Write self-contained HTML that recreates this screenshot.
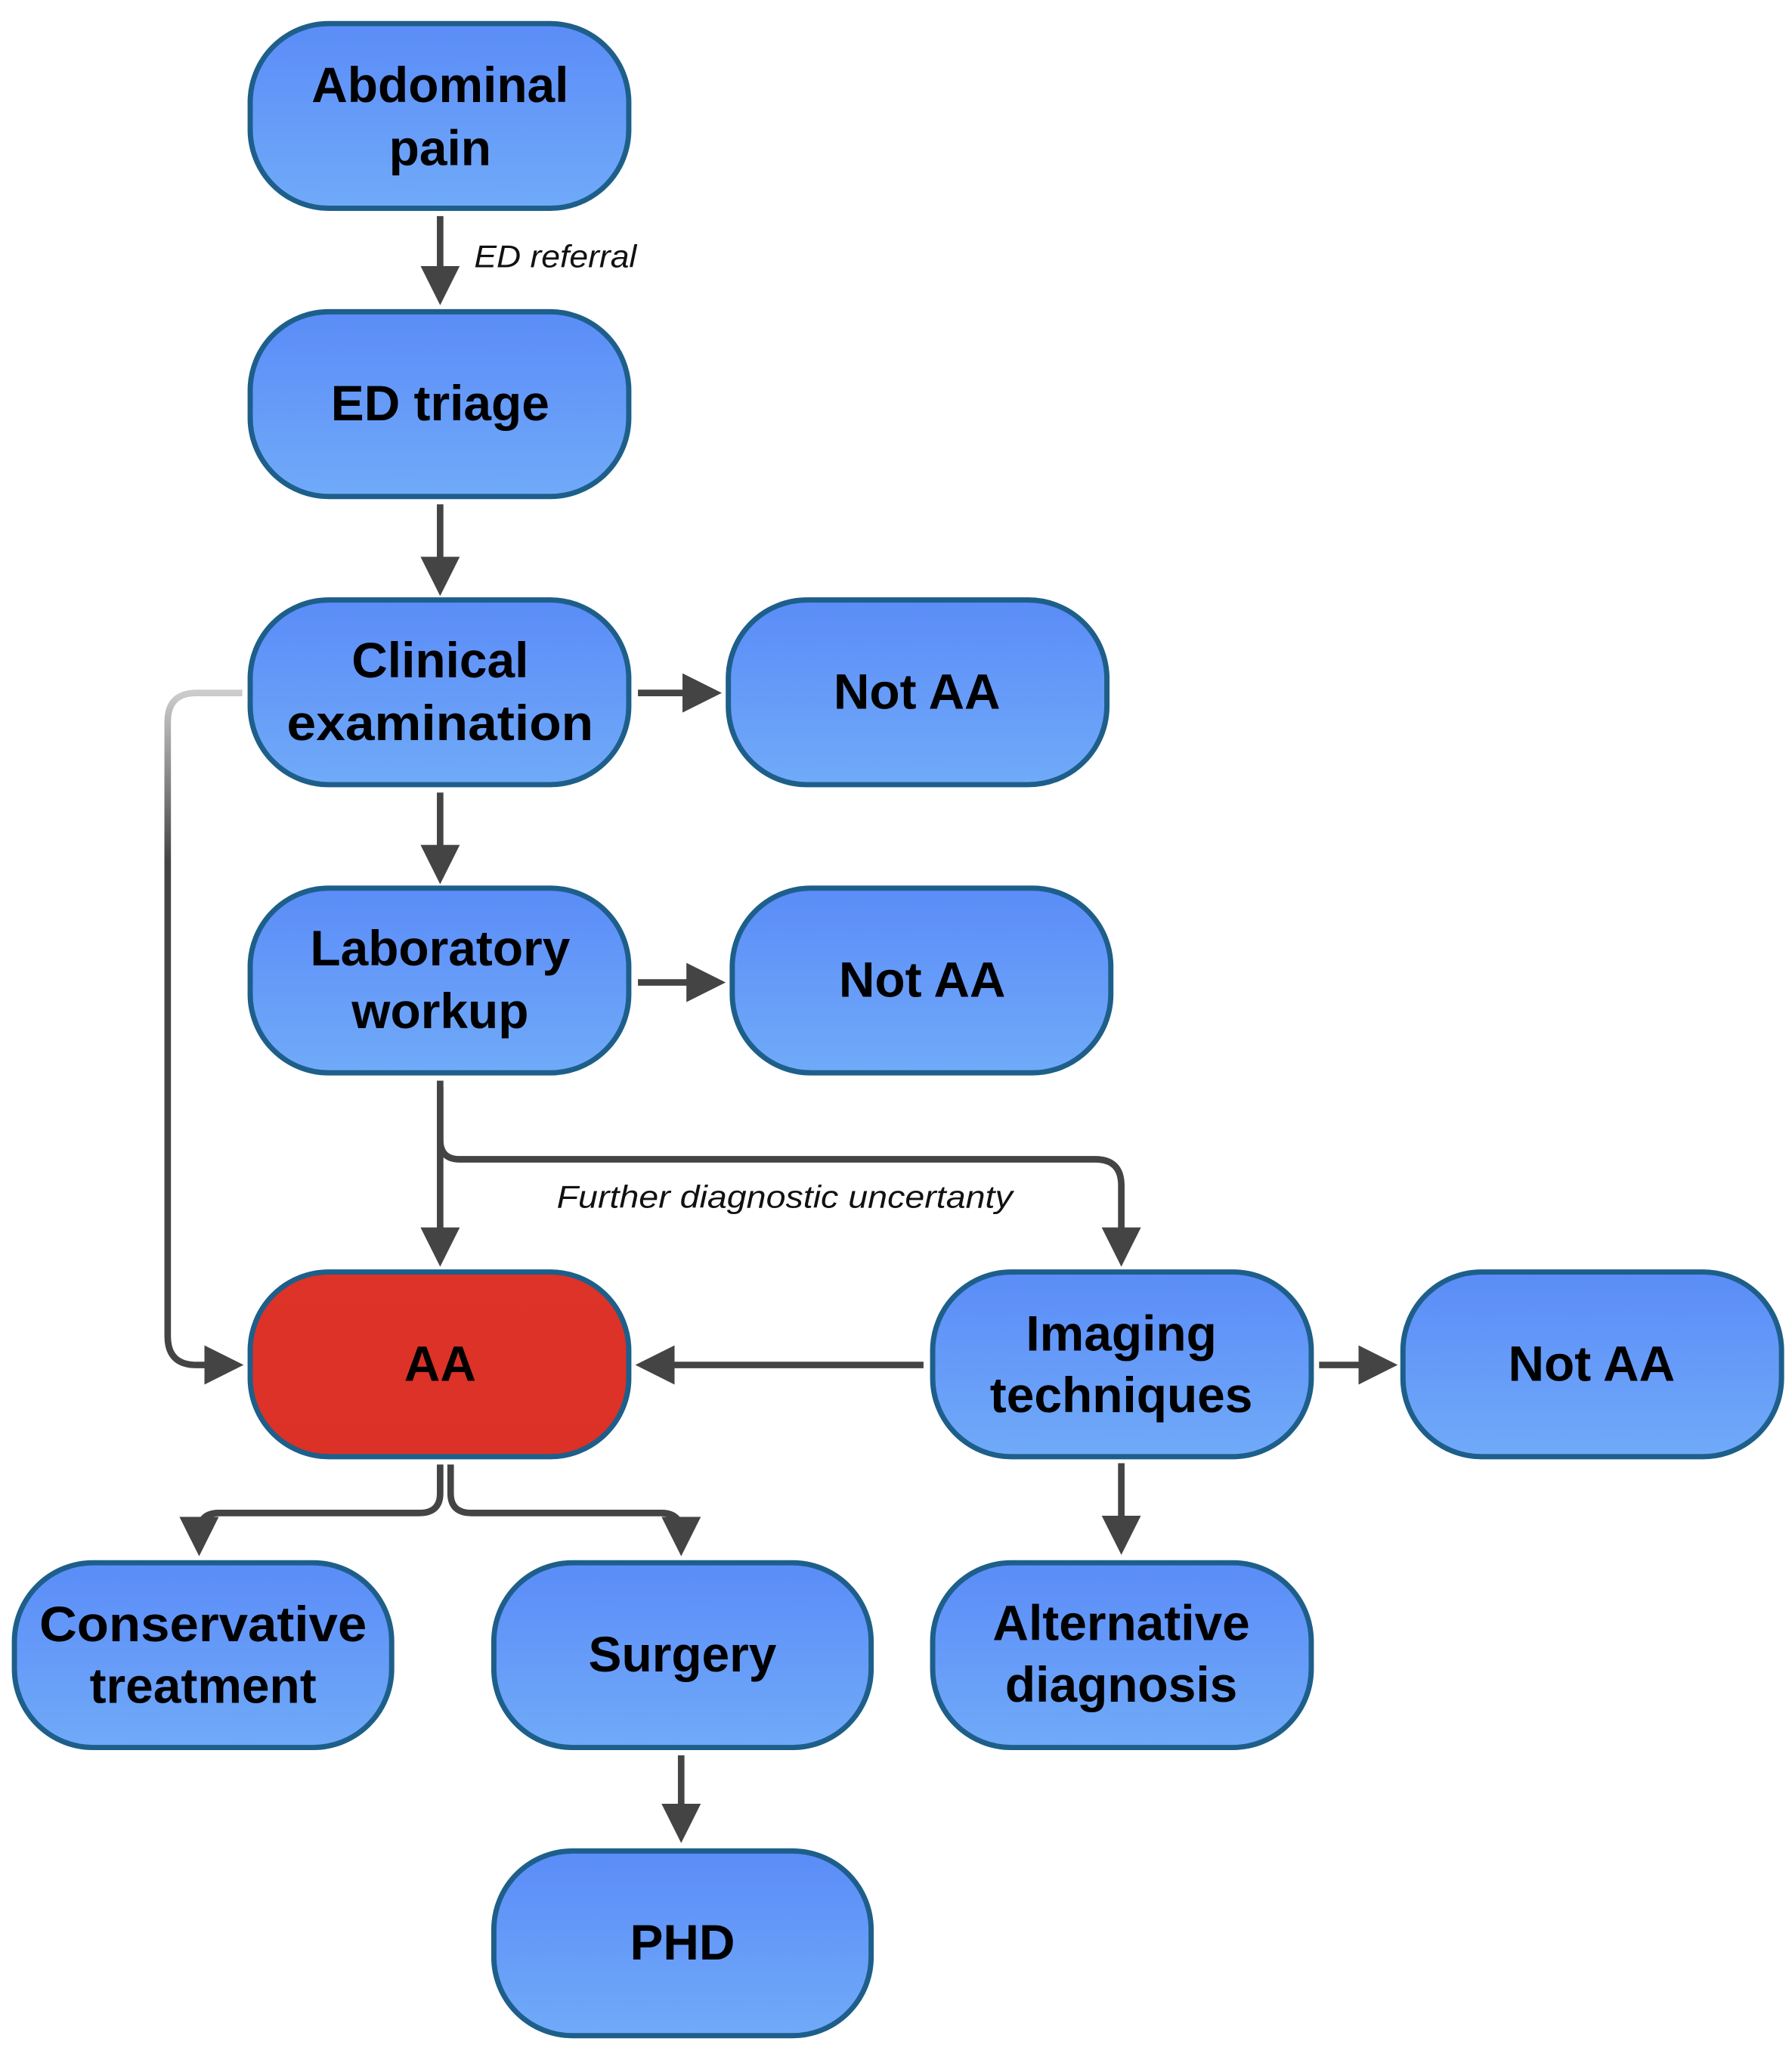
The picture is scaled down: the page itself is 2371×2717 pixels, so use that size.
<!DOCTYPE html>
<html><head><meta charset="utf-8"><style>
html,body{margin:0;padding:0;background:#fff;}
svg{display:block;}
.t{font-family:"Liberation Sans",sans-serif;font-weight:bold;font-size:38px;fill:#000;text-anchor:middle;}
.l{font-family:"Liberation Sans",sans-serif;font-style:italic;font-size:24px;fill:#111;}
.c{stroke:#444;stroke-width:5;fill:none;}
</style></head><body>
<svg width="2371" height="2717" viewBox="0 0 1368 1568" preserveAspectRatio="none" xmlns="http://www.w3.org/2000/svg">
<defs>
<linearGradient id="b" x1="0" y1="0" x2="0" y2="1"><stop offset="0" stop-color="#5b8cf8"/><stop offset="1" stop-color="#70aaf8"/></linearGradient>
<linearGradient id="r" x1="0" y1="0" x2="0" y2="1"><stop offset="0" stop-color="#dd3328"/><stop offset="1" stop-color="#db3127"/></linearGradient>
<linearGradient id="gv" x1="0" y1="0" x2="0" y2="1"><stop offset="0" stop-color="#ccc"/><stop offset="0.25" stop-color="#444"/></linearGradient>
<marker id="a" markerWidth="6" markerHeight="6" refX="3" refY="3" orient="auto" markerUnits="strokeWidth"><path d="M0,0 L6,3 L0,6 z" fill="#444"/></marker>
</defs>
<g stroke="#1d5f8a" stroke-width="4">
<rect x="191" y="18" width="289" height="141" rx="60" fill="url(#b)"/>
<rect x="191" y="238" width="289" height="141" rx="60" fill="url(#b)"/>
<rect x="191" y="458" width="289" height="141" rx="60" fill="url(#b)"/>
<rect x="556" y="458" width="289" height="141" rx="60" fill="url(#b)"/>
<rect x="191" y="678" width="289" height="141" rx="60" fill="url(#b)"/>
<rect x="559" y="678" width="289" height="141" rx="60" fill="url(#b)"/>
<rect x="191" y="971" width="289" height="141" rx="60" fill="url(#r)"/>
<rect x="712" y="971" width="289" height="141" rx="60" fill="url(#b)"/>
<rect x="1071" y="971" width="289" height="141" rx="60" fill="url(#b)"/>
<rect x="11" y="1193" width="288" height="141" rx="60" fill="url(#b)"/>
<rect x="377" y="1193" width="288" height="141" rx="60" fill="url(#b)"/>
<rect x="712" y="1193" width="289" height="141" rx="60" fill="url(#b)"/>
<rect x="377" y="1413" width="288" height="141" rx="60" fill="url(#b)"/>
</g>
<text class="t" x="336" y="78">Abdominal</text><text class="t" x="336" y="126">pain</text>
<text class="t" x="336" y="321">ED triage</text>
<text class="t" x="336" y="517">Clinical</text><text class="t" x="336" y="565" textLength="234" lengthAdjust="spacingAndGlyphs">examination</text>
<text class="t" x="700" y="541">Not AA</text>
<text class="t" x="336" y="737">Laboratory</text><text class="t" x="336" y="785">workup</text>
<text class="t" x="704" y="761">Not AA</text>
<text class="t" x="336" y="1054">AA</text>
<text class="t" x="856" y="1031">Imaging</text><text class="t" x="856" y="1078">techniques</text>
<text class="t" x="1215" y="1054">Not AA</text>
<text class="t" x="155" y="1253" textLength="250" lengthAdjust="spacingAndGlyphs">Conservative</text><text class="t" x="155" y="1300">treatment</text>
<text class="t" x="521" y="1276">Surgery</text>
<text class="t" x="856" y="1252">Alternative</text><text class="t" x="856" y="1299">diagnosis</text>
<text class="t" x="521" y="1496">PHD</text>
<g class="c">
<path d="M336 165 V218" marker-end="url(#a)"/>
<path d="M336 385 V440" marker-end="url(#a)"/>
<path d="M487 529 H536" marker-end="url(#a)"/>
<path d="M336 605 V660" marker-end="url(#a)"/>
<path d="M487 750 H539" marker-end="url(#a)"/>
<path d="M336 825 V952" marker-end="url(#a)"/>
<path d="M336 830 V870 Q336 885 351 885 H836 Q856 885 856 905 V952" marker-end="url(#a)"/>
<path d="M185 529 H150 Q128 529 128 551 V1020 Q128 1042 150 1042 H171" stroke="url(#gv)" marker-end="url(#a)"/>
<path d="M705 1042 H500" marker-end="url(#a)"/>
<path d="M1007 1042 H1052" marker-end="url(#a)"/>
<path d="M856 1117 V1172" marker-end="url(#a)"/>
<path d="M336 1118 V1140 Q336 1155 320 1155 H167 Q152 1155 152 1170 V1173" marker-end="url(#a)"/>
<path d="M344 1118 V1140 Q344 1155 360 1155 H505 Q520 1155 520 1170 V1173" marker-end="url(#a)"/>
<path d="M520 1340 V1392" marker-end="url(#a)"/>
</g>
<text class="l" x="362" y="204" textLength="124" lengthAdjust="spacingAndGlyphs">ED referral</text>
<text class="l" x="425" y="922" textLength="348" lengthAdjust="spacingAndGlyphs">Further diagnostic uncertanty</text>
</svg>
</body></html>
